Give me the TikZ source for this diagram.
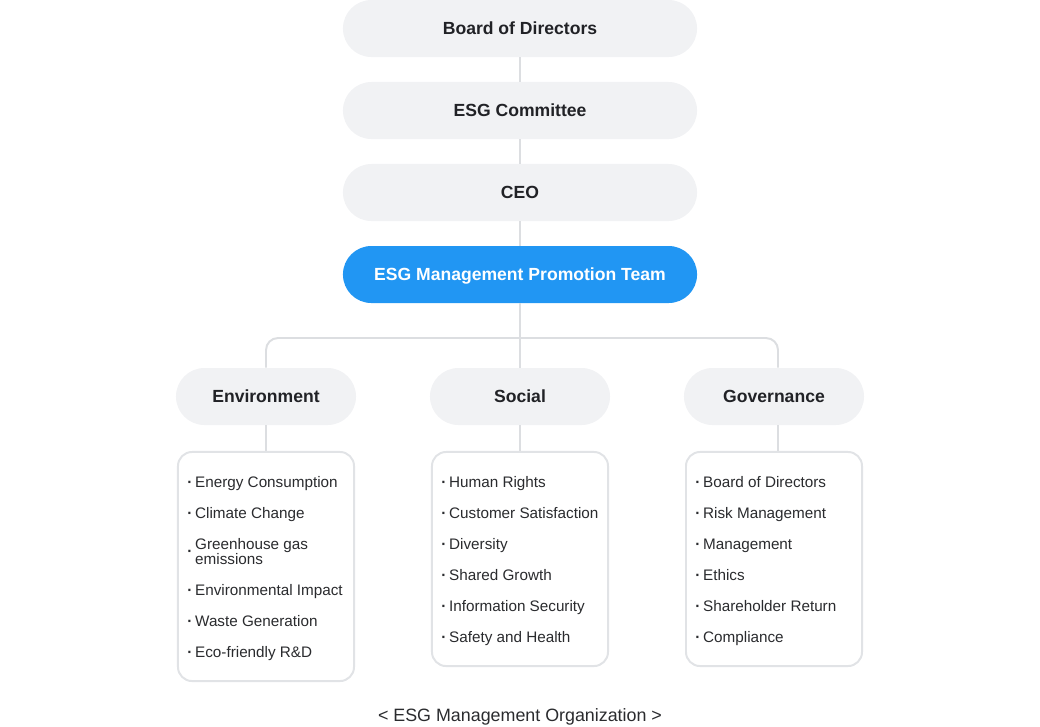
\documentclass[tikz,border=0pt]{standalone}
\usepackage{fontspec}
\setmainfont{Liberation Sans}
\usepackage{xcolor}
\usepackage{tikz}
\usetikzlibrary{positioning, calc}

\definecolor{boxgray}{HTML}{F1F2F4}
\definecolor{teamblue}{HTML}{2196F3}
\definecolor{linegray}{HTML}{DCDEE1}
\definecolor{framegray}{HTML}{E1E3E6}
\definecolor{inkdark}{HTML}{212226}
\definecolor{inkitem}{HTML}{2A2B2E}

\tikzset{
  orgbox/.style={
    rectangle, rounded corners=0.71cm, fill=boxgray, draw=none,
    minimum width=8.85cm, minimum height=1.425cm, align=center,
    text=inkdark, text height=9pt, text depth=0pt,
    font=\fontsize{12.5}{15}\selectfont\bfseries
  },
  orgteam/.style={
    orgbox, fill=teamblue, text=white
  },
  orgcat/.style={
    orgbox, minimum width=4.5cm
  },
  orglist/.style={
    rectangle, rounded corners=0.35cm, draw=framegray, line width=1.4pt,
    fill=white, minimum width=4.4cm
  },
  orgitem/.style={
    anchor=base west, inner sep=0pt, text=inkitem,
    font=\fontsize{10.85}{10.67}\selectfont
  },
  orgline/.style={
    draw=linegray, line width=1.4pt
  },
  captionlabel/.style={
    inner sep=0pt, anchor=base, text=inkitem,
    font=\fontsize{12.7}{15}\selectfont
  },
}

\begin{document}
\begin{tikzpicture}[x=0.025cm, y=-0.025cm]
  \useasboundingbox (0,0) rectangle (1040,726);

  % --- Chain of command ---
  \node[orgbox] (board) at (520, 28.5) {Board of Directors};
  \node[orgbox] (committee) at (520, 110.5) {ESG Committee};
  \node[orgbox] (ceo) at (520, 192.5) {CEO};
  \node[orgteam] (team) at (520, 274.5) {ESG Management Promotion Team};

  \draw[orgline] (board) -- (committee);
  \draw[orgline] (committee) -- (ceo);
  \draw[orgline] (ceo) -- (team);

  % --- Categories ---
  \node[orgcat] (env) at (266, 396.5) {Environment};
  \node[orgcat] (soc) at (520, 396.5) {Social};
  \node[orgcat] (gov) at (774, 396.5) {Governance};

  \coordinate (bar) at (520, 338);
  \draw[orgline] (team) -- (soc);
  \draw[orgline, rounded corners=0.3cm]
    (env.north) |- (bar) -| ([xshift=0.1cm]gov.north);

  % --- Item lists ---
  \node[orglist, minimum height=5.725cm] (envlist) at (266, 566.5) {};
  \node[orglist, minimum height=5.35cm] (soclist) at (520, 559) {};
  \node[orglist, minimum height=5.35cm] (govlist) at (774, 559) {};

  \draw[orgline] (env) -- (envlist);
  \draw[orgline] (soc) -- (soclist);
  \draw[orgline] ([xshift=0.1cm]gov.south) -- ([xshift=0.1cm]govlist.north);

  % --- Environment items ---
  \node[orgitem] (env1) at (187, 487) {\textbf{·}\hspace{2pt}Energy Consumption};
  \node[orgitem] (env2) at (187, 518) {\textbf{·}\hspace{2pt}Climate Change};
  \node[orgitem] (env3) at (187, 549)
    {\raisebox{-5pt}{\textbf{·}}\hspace{2pt}\begin{tabular}[t]{@{}l@{}}Greenhouse gas\\emissions\end{tabular}};
  \node[orgitem] (env4) at (187, 595) {\textbf{·}\hspace{2pt}Environmental Impact};
  \node[orgitem] (env5) at (187, 626) {\textbf{·}\hspace{2pt}Waste Generation};
  \node[orgitem] (env6) at (187, 657) {\textbf{·}\hspace{2pt}Eco-friendly R\&D};

  % --- Social items ---
  \node[orgitem] (soc1) at (441, 487) {\textbf{·}\hspace{2pt}Human Rights};
  \node[orgitem] (soc2) at (441, 518) {\textbf{·}\hspace{2pt}Customer Satisfaction};
  \node[orgitem] (soc3) at (441, 549) {\textbf{·}\hspace{2pt}Diversity};
  \node[orgitem] (soc4) at (441, 580) {\textbf{·}\hspace{2pt}Shared Growth};
  \node[orgitem] (soc5) at (441, 611) {\textbf{·}\hspace{2pt}Information Security};
  \node[orgitem] (soc6) at (441, 642) {\textbf{·}\hspace{2pt}Safety and Health};

  % --- Governance items ---
  \node[orgitem] (gov1) at (695, 487) {\textbf{·}\hspace{2pt}Board of Directors};
  \node[orgitem] (gov2) at (695, 518) {\textbf{·}\hspace{2pt}Risk Management};
  \node[orgitem] (gov3) at (695, 549) {\textbf{·}\hspace{2pt}Management};
  \node[orgitem] (gov4) at (695, 580) {\textbf{·}\hspace{2pt}Ethics};
  \node[orgitem] (gov5) at (695, 611) {\textbf{·}\hspace{2pt}Shareholder Return};
  \node[orgitem] (gov6) at (695, 642) {\textbf{·}\hspace{2pt}Compliance};

  % --- Caption ---
  \node[captionlabel] (caption) at (520, 721) {< ESG Management Organization >};
\end{tikzpicture}
\end{document}
